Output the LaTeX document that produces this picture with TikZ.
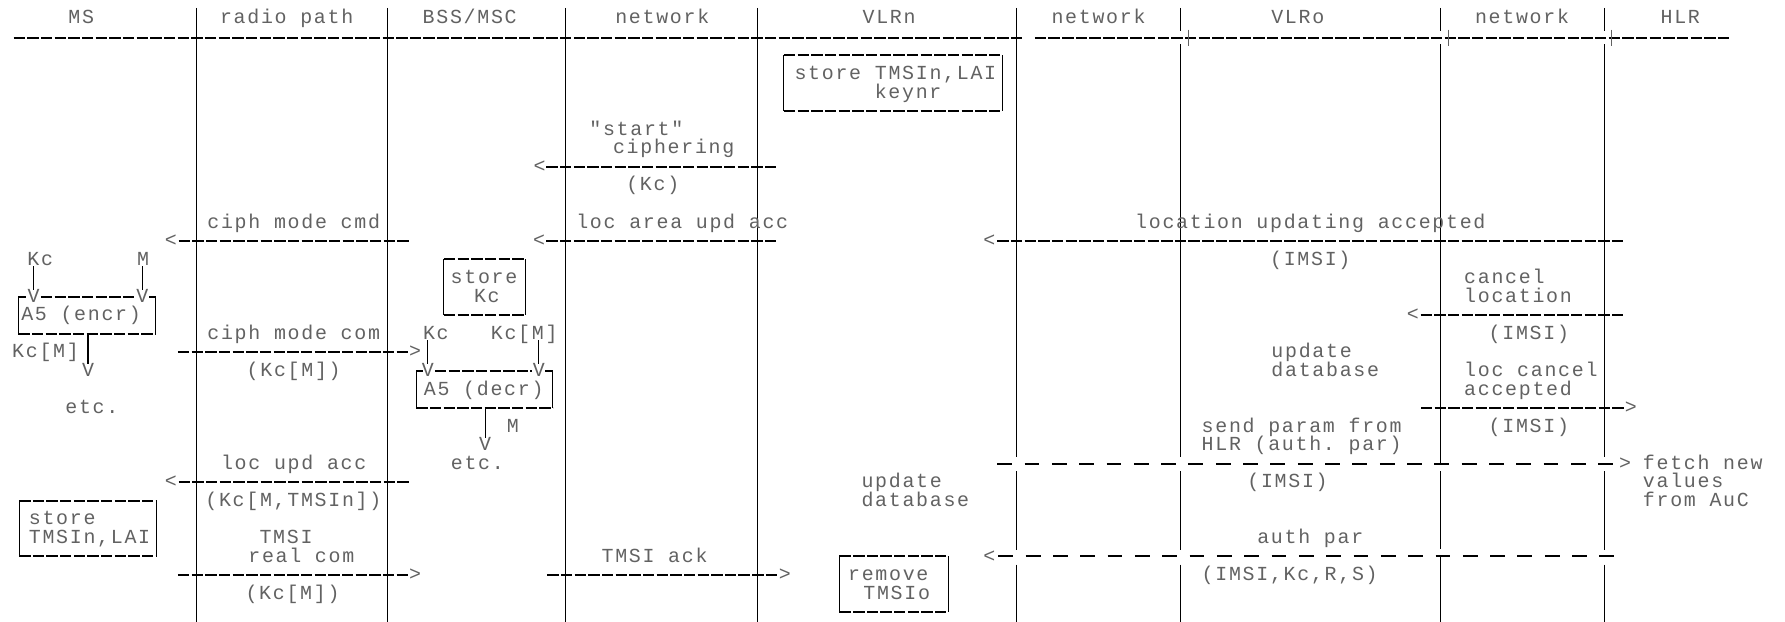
\documentclass[tikz,border=0pt]{standalone}
\usepackage{fontspec}
\setmonofont{Liberation Mono}[LetterSpace=8.6]
\definecolor{txtc}{HTML}{626262}
\tikzset{
  txt/.style={font=\ttfamily\fontsize{17.5}{20}\selectfont, text=txtc, inner sep=0pt, anchor=base, yshift=-5pt},
  txtl/.style={txt, anchor=base west},
  dline/.style={line width=1.8pt, dash pattern=on 10pt off 2pt},
  ldline/.style={line width=1.8pt, dash pattern=on 13pt off 11pt},
  life/.style={line width=0.9pt},
  side/.style={line width=0.9pt},
}
\newcommand\hdl[5][dline]{\coordinate (#2a) at (#3,#5); \coordinate (#2b) at (#4,#5); \draw[#1] (#2a) -- (#2b);}
\newcommand\vsg[4]{\coordinate (#1a) at (#2,#3); \coordinate (#1b) at (#2,#4); \draw[side] (#1a) -- (#1b);}
\newcommand\mybox[5]{%
  \coordinate (#1-nw) at (#2,#4); \coordinate (#1-ne) at (#3,#4);
  \coordinate (#1-sw) at (#2,#5); \coordinate (#1-se) at (#3,#5);
  \draw[dline] (#1-nw) -- (#1-ne); \draw[dline] (#1-sw) -- (#1-se);
  \draw[side] (#1-nw) -- (#1-sw); \draw[side] (#1-ne) -- (#1-se);}
\begin{document}
\begin{tikzpicture}[x=1pt,y=-1pt]
\fill[white] (0,0) rectangle (1568,546);
\useasboundingbox (0,0) rectangle (1568,546);

% lifelines
\foreach \n/\x in {1/173,2/340.5,3/496.5,4/665}{
  \coordinate (L\n-t) at (\x,7); \coordinate (L\n-b) at (\x,546);
  \draw[life] (L\n-t) -- (L\n-b);
}
\coordinate (L5-t) at (893,7);
\coordinate (L5-g1) at (893,401);
\coordinate (L5-g2) at (893,414);
\coordinate (L5-g3) at (893,483);
\coordinate (L5-g4) at (893,496);
\coordinate (L5-b) at (893,546);
\draw[life] (L5-t) -- (L5-g1) (L5-g2) -- (L5-g3) (L5-g4) -- (L5-b);
\foreach \n/\x in {6/1037,8/1409.5}{
  \coordinate (L\n-t) at (\x,7);
  \coordinate (L\n-h1) at (\x,27);
  \coordinate (L\n-h2) at (\x,39);
  \coordinate (L\n-g1) at (\x,401);
  \coordinate (L\n-g2) at (\x,414);
  \coordinate (L\n-g3) at (\x,483);
  \coordinate (L\n-g4) at (\x,496);
  \coordinate (L\n-b) at (\x,546);
  \draw[life] (L\n-t) -- (L\n-h1) (L\n-h2) -- (L\n-g1) (L\n-g2) -- (L\n-g3) (L\n-g4) -- (L\n-b);
}
\coordinate (L7-t) at (1265.5,7);
\coordinate (L7-h1) at (1265.5,27);
\coordinate (L7-h2) at (1265.5,39);
\coordinate (L7-g1) at (1265.5,407.2);
\coordinate (L7-g2) at (1265.5,414);
\coordinate (L7-g3) at (1265.5,482);
\coordinate (L7-g4) at (1265.5,488.7);
\coordinate (L7-b) at (1265.5,546);
\draw[life] (L7-t) -- (L7-h1) (L7-h2) -- (L7-g1) (L7-g2) -- (L7-g3) (L7-g4) -- (L7-b);
\draw[life] ([xshift=-4pt]L7-g1) -- ([xshift=4pt]L7-g1);
\draw[life] (L7-g4) -- ([xshift=6pt]L7-g4);

% header
\node[txt] (hMS) at (71.4,16) {MS};
\node[txt] (hRP) at (251.8,16) {radio path};
\node[txt] (hBSS) at (412.6,16) {BSS/MSC};
\node[txt] (hNW1) at (581.8,16) {network};
\node[txt] (hVLRn) at (781,16) {VLRn};
\node[txt] (hNW2) at (965,16) {network};
\node[txt] (hVLRo) at (1140,16) {VLRo};
\node[txt] (hNW3) at (1337,16) {network};
\node[txt] (hHLR) at (1476,16) {HLR};
\hdl{hl1}{12}{898}{33}
\hdl{hl2}{909}{1519}{33}
\foreach \n/\x in {a/1044,b/1272,c/1416}{
  \coordinate (p\n1) at (\x,26); \coordinate (p\n2) at (\x,40);
  \draw[life,txtc] (p\n1) -- (p\n2);
}

% store box VLRn
\mybox{bx1}{688.6}{880.3}{48.6}{97.5}
\node[txt] (t1) at (786.5,64.9) {store TMSIn,LAI};
\node[txt] (t2) at (797.7,81.2) {keynr};

% start ciphering
\node[txt] (t3) at (559,113.8) {"start"};
\node[txt] (t4) at (591.8,130.1) {ciphering};
\node[txt] (ar1) at (474,146.4) {<};
\hdl{d1}{480}{682.6}{146.4}
\node[txt] (t5) at (573.4,162.7) {(Kc)};

% rows 11/12
\node[txt] (t6) at (258,195.3) {ciph mode cmd};
\node[txt] (t7) at (599.3,195.3) {loc area upd acc};
\node[txt] (t8) at (1151,195.3) {location updating accepted};
\node[txt] (ar2) at (150,211.6) {<}; \hdl{d2}{157}{359}{211.6}
\node[txt] (ar3) at (473.5,211.6) {<}; \hdl{d3}{480}{682.6}{211.6}
\node[txt] (ar4) at (869,211.6) {<}; \hdl{d4}{876}{1426.7}{211.6}

% row 13
\node[txt] (t9) at (35.3,227.9) {Kc};
\node[txt] (t10) at (125.7,227.9) {M};
\node[txt] (t11) at (1151,227.9) {(IMSI)};
\mybox{bx2}{390}{461.2}{227.9}{276.8}
\vsg{v1}{29.6}{234}{255}
\vsg{v2}{125}{234}{255}
% row 14
\node[txt] (t12) at (425.2,244.2) {store};
\node[txtl] (t13) at (1286,244.2) {cancel};
% row 15 : A5 encr box
\coordinate (bx3-nw) at (16,260.5); \coordinate (bx3-sw) at (16,293.1);
\coordinate (bx3-ne) at (137,260.5); \coordinate (bx3-se) at (137,293.1);
\draw[side] (bx3-nw) -- (bx3-sw); \draw[side] (bx3-ne) -- (bx3-se);
\draw[dline] (bx3-sw) -- (bx3-se);
\hdl{bx3l}{16}{23}{260.5}
\hdl{bx3t}{36}{119}{260.5}
\hdl{bx3r}{131}{137}{260.5}
\node[txt] (v1h) at (29.6,260.5) {V};
\node[txt] (v2h) at (125,260.5) {V};
\node[txt] (t14) at (427.7,260.5) {Kc};
\node[txtl] (t15) at (1286,260.5) {location};
% row 16
\node[txtl] (t16) at (18.5,276.8) {A5 (encr)};
\node[txt] (ar5) at (1241,276.8) {<}; \hdl{d5}{1248}{1426.7}{276.8}
% row 17
\node[txt] (t17) at (258,293.1) {ciph mode com};
\node[txt] (t18) at (382.9,293.1) {Kc};
\node[txt] (t19) at (460.5,293.1) {Kc[M]};
\node[txt] (t20) at (1343,293.1) {(IMSI)};
% row 18
\node[txt] (t21) at (40,309.4) {Kc[M]};
\vsg{v3}{77.3}{293.1}{319.7}
\hdl{d6}{156.3}{358}{309.4} \node[txt] (ar6) at (364.7,309.4) {>};
\vsg{v4}{375.8}{299}{319.7}
\vsg{v5}{473.3}{299}{319.7}
\node[txtl] (t22) at (1116.7,309.4) {update};
% row 19
\node[txt] (v3h) at (77.3,325.7) {V};
\node[txt] (t23) at (258,325.7) {(Kc[M])};
\coordinate (bx4-nw) at (365.7,325.7); \coordinate (bx4-sw) at (365.7,358.3);
\coordinate (bx4-ne) at (485.7,325.7); \coordinate (bx4-se) at (485.7,358.3);
\draw[side] (bx4-nw) -- (bx4-sw); \draw[side] (bx4-ne) -- (bx4-se);
\draw[dline] (bx4-sw) -- (bx4-se);
\hdl{bx4l}{365.7}{372}{325.7}
\hdl{bx4t}{382}{467}{325.7}
\hdl{bx4r}{479}{485.7}{325.7}
\node[txt] (v4h) at (375.8,325.7) {V};
\node[txt] (v5h) at (473.3,325.7) {V};
\node[txtl] (t24) at (1116.7,325.7) {database};
\node[txtl] (t25) at (1286,325.7) {loc cancel};
% row 20
\node[txt] (t26) at (424.9,342) {A5 (decr)};
\node[txtl] (t27) at (1286,342) {accepted};
% row 21
\node[txt] (t28) at (80.7,358.3) {etc.};
\hdl{d7}{1248.3}{1426.7}{358.3} \node[txt] (ar7) at (1432.5,358.3) {>};
% row 22
\vsg{v6}{426.2}{358.3}{384.9}
\node[txt] (t29) at (450.4,374.6) {M};
\node[txtl] (t30) at (1055.4,374.6) {send param from};
\node[txt] (t31) at (1343,374.6) {(IMSI)};
% row 23
\node[txt] (v6h) at (426.2,390.9) {V};
\node[txtl] (t32) at (1055.4,390.9) {HLR (auth. par)};
% row 24
\node[txt] (t33) at (258,407.2) {loc upd acc};
\node[txt] (t34) at (419.3,407.2) {etc.};
\hdl[ldline]{d8}{876}{1420.5}{407.2} \node[txt] (ar8) at (1427.5,407.2) {>};
\node[txtl] (t35) at (1443,407.2) {fetch new};
% row 25
\node[txt] (ar9) at (150,423.5) {<}; \hdl{d9}{157}{359}{423.5}
\node[txtl] (t36) at (756.6,423.5) {update};
\node[txt] (t37) at (1131,423.5) {(IMSI)};
\node[txtl] (t38) at (1443,423.5) {values};
% row 26
\node[txt] (t39) at (257.7,439.8) {(Kc[M,TMSIn])};
\node[txtl] (t40) at (756.6,439.8) {database};
\node[txtl] (t41) at (1443,439.8) {from AuC};
\mybox{bx5}{16.8}{137.1}{439.8}{488.7}
% row 27
\node[txtl] (t42) at (25.2,456.1) {store};
% row 28
\node[txtl] (t43) at (25.2,472.4) {TMSIn,LAI};
\node[txt] (t44) at (251.3,472.4) {TMSI};
\node[txt] (t45) at (1151,472.4) {auth par};
% row 29
\node[txt] (t46) at (264.7,488.7) {real com};
\node[txt] (t47) at (575,488.7) {TMSI ack};
\node[txt] (ar10) at (869,488.7) {<}; \hdl[ldline]{d10}{877}{1425}{488.7}
\mybox{bx6}{737.4}{832.9}{488.7}{537.6}
% row 30
\hdl{d11}{156.3}{358}{505} \node[txt] (ar11) at (364.7,505) {>};
\hdl{d12}{480.7}{682.6}{505} \node[txt] (ar12) at (689.4,505) {>};
\node[txtl] (t48) at (744.8,505) {remove};
\node[txtl] (t49) at (1055.4,505) {(IMSI,Kc,R,S)};
% row 31
\node[txt] (t50) at (257,521.3) {(Kc[M])};
\node[txtl] (t51) at (758.2,521.3) {TMSIo};
\end{tikzpicture}
\end{document}
